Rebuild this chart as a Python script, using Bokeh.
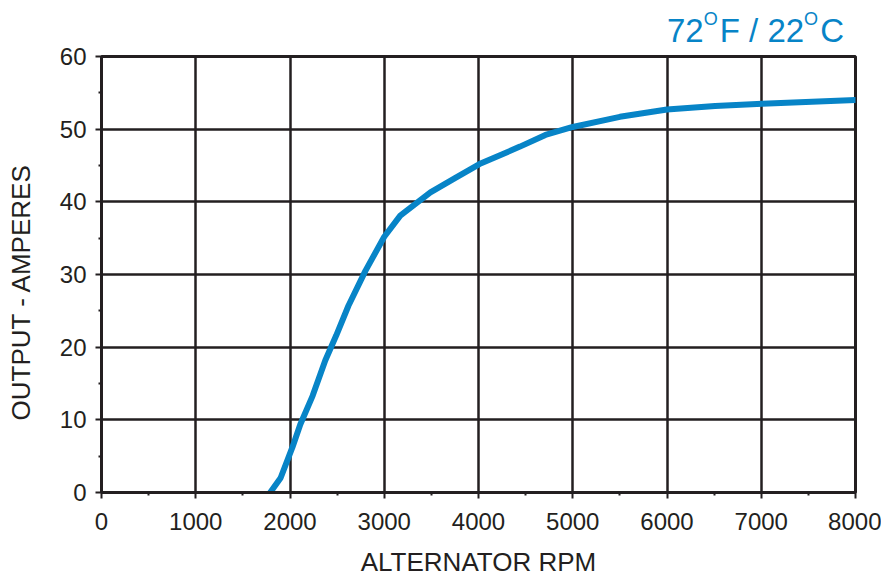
from bokeh.plotting import figure
from bokeh.models import Range1d, FixedTicker, ColumnDataSource, Title, Div
from bokeh.layouts import column
from bokeh.embed import file_html
from bokeh.resources import INLINE

# Data
rpm = [1790, 1900, 2025, 2110, 2240, 2375, 2490, 2620, 2800, 3000, 3170, 3300,
       3490, 3755, 4010, 4440, 4710, 5000, 5500, 6000, 6510, 7010, 8000]
amps = [0, 2, 6.2, 9.4, 13.3, 18.2, 21.6, 25.7, 30.5, 35.2, 38.1, 39.4,
        41.3, 43.3, 45.2, 47.6, 49.2, 50.3, 51.7, 52.7, 53.2, 53.5, 54.0]
x_ticks = [0, 1000, 2000, 3000, 4000, 5000, 6000, 7000, 8000]
x_minor = [500, 1500, 2500, 3500, 4500, 5500, 6500, 7500]
y_ticks = [0, 10, 20, 30, 40, 50, 60]
y_minor = [5, 15, 25, 35, 45, 55]
temp_f, temp_c = "72", "22"

BLUE = "#0784c7"
INK = "#231f20"
FONT = "Liberation Sans"
W = 881
TOP_H = 44

# ---- top strip holding the temperature title ----
sup = ('<span style="font-size:18px;position:relative;top:-17px;'
       'margin-right:2px;">O</span>')
title_html = (
    f'<div style="position:relative;width:{W}px;height:{TOP_H}px;'
    f'font-family:\'{FONT}\';color:{BLUE};">'
    f'<span style="position:absolute;left:667px;top:14px;font-size:33px;'
    f'line-height:33px;white-space:nowrap;">'
    f'{temp_f}{sup}F / {temp_c}{sup}C</span></div>')
top = Div(text=title_html, width=W, height=TOP_H, margin=(0, 0, 0, 0))

# ---- main chart ----
p = figure(width=W, height=579 - TOP_H, output_backend="svg", toolbar_location=None,
           x_range=Range1d(0, 8000), y_range=Range1d(0, 60),
           min_border_left=101, min_border_right=26, min_border_top=56 - TOP_H,
           min_border_bottom=87)
p.background_fill_color = "white"
p.border_fill_color = "white"
p.outline_line_color = INK
p.outline_line_width = 3

src = ColumnDataSource(dict(x=rpm, y=amps))
p.line("x", "y", source=src, line_color=BLUE, line_width=6, line_join="round", line_cap="round")

for ax in (p.xaxis[0], p.yaxis[0]):
    ax.axis_line_color = INK
    ax.axis_line_width = 3
    ax.major_tick_line_color = INK
    ax.major_tick_line_width = 2
    ax.major_tick_out = 6
    ax.major_tick_in = 0
    ax.minor_tick_line_color = INK
    ax.minor_tick_line_width = 2
    ax.minor_tick_out = 3
    ax.minor_tick_in = 0
    ax.major_label_text_font = FONT
    ax.major_label_text_font_size = "24px"
    ax.major_label_text_color = INK
    ax.axis_label_text_font = FONT
    ax.axis_label_text_font_style = "normal"
    ax.axis_label_text_color = INK

p.xaxis[0].ticker = FixedTicker(ticks=x_ticks, minor_ticks=x_minor)
p.yaxis[0].ticker = FixedTicker(ticks=y_ticks, minor_ticks=y_minor)
p.xaxis[0].axis_label = "ALTERNATOR RPM"
p.xaxis[0].axis_label_text_font_size = "26px"
p.xaxis[0].major_label_standoff = 14
p.xaxis[0].axis_label_standoff = 14
p.yaxis[0].major_label_standoff = 9
# tiny spacer label pushes the rotated title outward
p.yaxis[0].axis_label = " "
p.yaxis[0].axis_label_text_font_size = "1px"
p.yaxis[0].axis_label_standoff = 15

p.add_layout(Title(text="OUTPUT - AMPERES", align="left", offset=72, standoff=0,
                   vertical_align="top",
                   text_font=FONT, text_font_size="26px", text_font_style="normal",
                   text_color=INK), "left")

p.xgrid[0].ticker = FixedTicker(ticks=x_ticks)
p.ygrid[0].ticker = FixedTicker(ticks=y_ticks)
for g in (p.xgrid[0], p.ygrid[0]):
    g.grid_line_color = INK
    g.grid_line_width = 2.5
    g.grid_line_alpha = 1

layout = column(top, p, spacing=0)
open("out.html", "w").write(file_html(layout, INLINE))
